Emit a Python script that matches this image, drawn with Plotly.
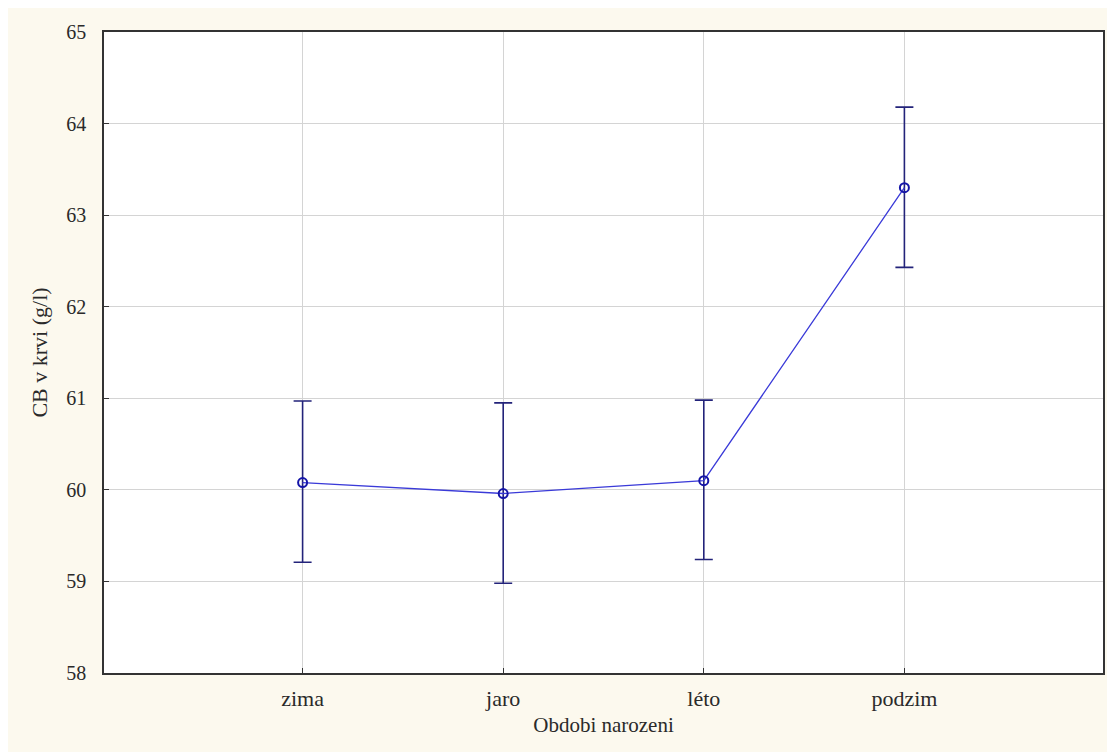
import plotly.graph_objects as go

categories = ["zima", "jaro", "léto", "podzim"]
means = [60.08, 59.96, 60.10, 63.30]
upper = [60.97, 60.95, 60.98, 64.18]
lower = [59.21, 58.98, 59.24, 62.43]
y_ticks = [58, 59, 60, 61, 62, 63, 64, 65]

x_pos = list(range(len(categories)))
err_plus = [u - m for u, m in zip(upper, means)]
err_minus = [m - l for m, l in zip(means, lower)]

FAM = "Liberation Serif, DejaVu Serif, serif"
TXT = "#2a2a2a"

fig = go.Figure()
fig.add_trace(go.Scatter(
    x=x_pos, y=means, mode="lines+markers",
    line=dict(color="#3a3ad8", width=1.3),
    marker=dict(symbol="circle-open", size=9, color="#1414a8", line=dict(width=2, color="#1414a8")),
    error_y=dict(type="data", symmetric=False, array=err_plus, arrayminus=err_minus,
                 color="#23237a", thickness=1.6, width=9),
    showlegend=False,
))

fig.update_layout(
    width=1102, height=744,
    margin=dict(l=96, r=5, t=24, b=79),
    paper_bgcolor="#fcf9ee",
    plot_bgcolor="white",
    font=dict(family=FAM, size=20, color=TXT),
    xaxis=dict(
        range=[-0.99, 3.99], tickmode="array", tickvals=x_pos, ticktext=categories,
        showgrid=True, gridcolor="#d4d4d4", gridwidth=1,
        ticks="inside", ticklen=5, tickcolor="#333", ticklabelstandoff=5,
        showline=True, linecolor="#333", linewidth=1.6, mirror=True, zeroline=False,
        title=dict(text="Obdobi narozeni", font=dict(family=FAM, size=21, color=TXT), standoff=7),
        tickfont=dict(family=FAM, size=22, color=TXT),
    ),
    yaxis=dict(
        range=[58, 65], tickmode="array", tickvals=y_ticks,
        showgrid=True, gridcolor="#d4d4d4", gridwidth=1,
        ticks="inside", ticklen=5, tickcolor="#333", ticklabelstandoff=12,
        showline=True, linecolor="#333", linewidth=1.6, mirror=True, zeroline=False,
        title=dict(text="CB v krvi (g/l)", font=dict(family=FAM, size=22, color=TXT), standoff=13),
        tickfont=dict(family=FAM, size=20, color=TXT),
    ),
)

fig.write_html("out.html")
